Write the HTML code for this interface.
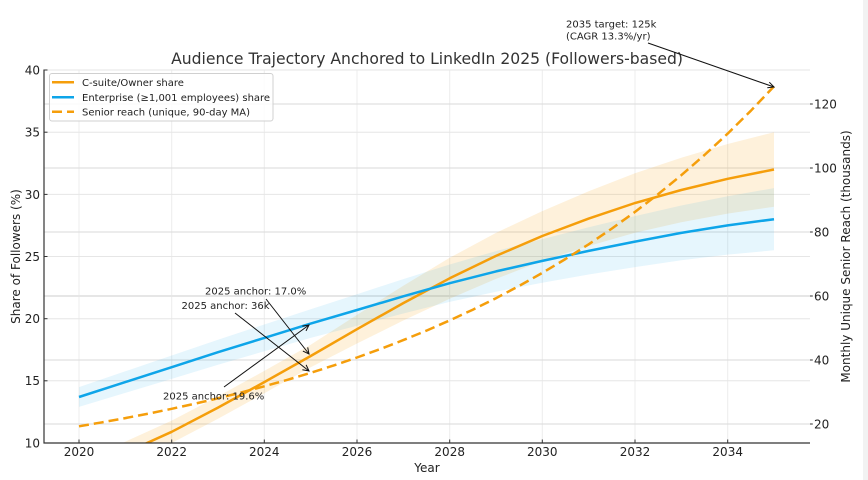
<!DOCTYPE html>
<html>
<head>
<meta charset="utf-8">
<style>
  html, body { margin:0; padding:0; background:#ffffff; }
  svg { display:block; }
  text { font-family: "DejaVu Sans", "Liberation Sans", sans-serif; }
</style>
</head>
<body>
<svg width="868" height="480" viewBox="0 0 868 480" xmlns="http://www.w3.org/2000/svg">
  <rect x="0" y="0" width="868" height="480" fill="#ffffff"/>
  <rect x="863" y="0" width="5" height="480" fill="#f2f2f2"/>
  <defs>
    <clipPath id="plot"><rect x="44" y="70" width="766" height="373"/></clipPath>
  </defs>

  <!-- vertical grid -->
  <g stroke="#ececec" stroke-width="1">
    <line x1="79" y1="70" x2="79" y2="443"/>
    <line x1="171.7" y1="70" x2="171.7" y2="443"/>
    <line x1="264.3" y1="70" x2="264.3" y2="443"/>
    <line x1="357" y1="70" x2="357" y2="443"/>
    <line x1="449.7" y1="70" x2="449.7" y2="443"/>
    <line x1="542.3" y1="70" x2="542.3" y2="443"/>
    <line x1="635" y1="70" x2="635" y2="443"/>
    <line x1="727.7" y1="70" x2="727.7" y2="443"/>
  </g>
  <!-- left horizontal grid -->
  <g stroke="#e6e6e6" stroke-width="1">
    <line x1="44" y1="70" x2="810" y2="70"/>
    <line x1="44" y1="132.2" x2="810" y2="132.2"/>
    <line x1="44" y1="194.4" x2="810" y2="194.4"/>
    <line x1="44" y1="256.5" x2="810" y2="256.5"/>
    <line x1="44" y1="318.7" x2="810" y2="318.7"/>
    <line x1="44" y1="380.8" x2="810" y2="380.8"/>
  </g>
  <!-- right horizontal grid -->
  <g stroke="#dadada" stroke-width="1">
    <line x1="44" y1="104" x2="810" y2="104"/>
    <line x1="44" y1="168" x2="810" y2="168"/>
    <line x1="44" y1="232" x2="810" y2="232"/>
    <line x1="44" y1="296" x2="810" y2="296" stroke="#e6e6e6" stroke-width="2"/>
    <line x1="44" y1="360" x2="810" y2="360"/>
    <line x1="44" y1="424" x2="810" y2="424"/>
  </g>

  <g clip-path="url(#plot)">
    <!-- orange band -->
    <polygon fill="#F59E0B" fill-opacity="0.15" points="79,462.9 125.3,441.7 171.7,420.6 218,396.4 264.3,370.9 310.7,344.8 357,314.9 403.3,285.7 449.7,257.8 496,232.9 542.3,211.1 588.7,191.2 635,173.2 681.3,157.7 727.7,144.0 774,132.2 774,206.8 727.7,213.6 681.3,222.3 635,232.8 588.7,246.0 542.3,260.9 496,278.9 449.7,298.8 403.3,320.5 357,343.5 310.7,367.2 264.3,393.3 218,418.8 171.7,443.0 125.3,464.1 79,485.3"/>
    <!-- blue band -->
    <polygon fill="#0EA5E9" fill-opacity="0.1" points="79,387.1 125.3,371.3 171.7,355.5 218,339.7 264.3,324.5 310.7,309.3 357,294.2 403.3,279.1 449.7,264.5 496,251.1 542.3,239.1 588.7,227.3 635,216.1 681.3,205.5 727.7,196.2 774,188.1 774,250.3 727.7,254.6 681.3,260.3 635,267.1 588.7,274.5 542.3,282.7 496,291.7 449.7,301.9 403.3,313.5 357,325.8 310.7,337.9 264.3,351.3 218,364.7 171.7,378.9 125.3,392.9 79,406.9"/>
    <!-- orange line -->
    <polyline fill="none" stroke="#F59E0B" stroke-width="2.5" stroke-linejoin="round" points="79,474.1 125.3,452.9 171.7,431.8 218,407.6 264.3,382.1 310.7,356.0 357,329.2 403.3,303.1 449.7,278.3 496,255.9 542.3,236.0 588.7,218.6 635,203.0 681.3,190.0 727.7,178.8 774,169.5"/>
    <!-- blue line -->
    <polyline fill="none" stroke="#0EA5E9" stroke-width="2.5" stroke-linejoin="round" points="79,397.0 125.3,382.1 171.7,367.2 218,352.2 264.3,337.9 310.7,323.6 357,310.0 403.3,296.3 449.7,283.2 496,271.4 542.3,260.9 588.7,250.9 635,241.6 681.3,232.9 727.7,225.4 774,219.2"/>
  </g>
  <!-- dashed senior reach -->
  <polyline fill="none" stroke="#F59E0B" stroke-width="2.5" stroke-dasharray="10,5" stroke-linejoin="round" points="79,426.3 102.2,422.3 125.3,418.1 148.5,413.6 171.7,408.8 194.8,403.7 218,398.3 241.2,392.5 264.3,386.3 287.5,379.8 310.7,372.8 333.8,365.4 357,357.5 380.2,349.1 403.3,340.1 426.5,330.6 449.7,320.4 472.8,309.7 496,298.2 519.2,285.9 542.3,272.9 565.5,259.0 588.7,244.3 611.8,228.6 635,211.9 658.2,194.1 681.3,175.2 704.5,155.0 727.7,133.6 750.8,110.8 774,86.4"/>

  <!-- spines -->
  <line x1="44" y1="69.5" x2="44" y2="443.5" stroke="#333" stroke-width="1.2"/>
  <line x1="43.5" y1="443" x2="810" y2="443" stroke="#333" stroke-width="1.2"/>

  <!-- ticks -->
  <g stroke="#333" stroke-width="1">
    <line x1="44" y1="70" x2="47.5" y2="70"/>
    <line x1="44" y1="132.2" x2="47.5" y2="132.2"/>
    <line x1="44" y1="194.4" x2="47.5" y2="194.4"/>
    <line x1="44" y1="256.5" x2="47.5" y2="256.5"/>
    <line x1="44" y1="318.7" x2="47.5" y2="318.7"/>
    <line x1="44" y1="380.8" x2="47.5" y2="380.8"/>
    <line x1="44" y1="443" x2="47.5" y2="443"/>
    <line x1="79" y1="443" x2="79" y2="439.5"/>
    <line x1="171.7" y1="443" x2="171.7" y2="439.5"/>
    <line x1="264.3" y1="443" x2="264.3" y2="439.5"/>
    <line x1="357" y1="443" x2="357" y2="439.5"/>
    <line x1="449.7" y1="443" x2="449.7" y2="439.5"/>
    <line x1="542.3" y1="443" x2="542.3" y2="439.5"/>
    <line x1="635" y1="443" x2="635" y2="439.5"/>
    <line x1="727.7" y1="443" x2="727.7" y2="439.5"/>
    <line x1="810" y1="104" x2="812.8" y2="104"/>
    <line x1="810" y1="168" x2="812.8" y2="168"/>
    <line x1="810" y1="232" x2="812.8" y2="232"/>
    <line x1="810" y1="296" x2="812.8" y2="296"/>
    <line x1="810" y1="360" x2="812.8" y2="360"/>
    <line x1="810" y1="424" x2="812.8" y2="424"/>
  </g>

  <!-- left tick labels -->
  <g font-size="12" fill="#222" text-anchor="end">
    <text x="40" y="74.4">40</text>
    <text x="40" y="136.6">35</text>
    <text x="40" y="198.8">30</text>
    <text x="40" y="260.9">25</text>
    <text x="40" y="323.1">20</text>
    <text x="40" y="385.2">15</text>
    <text x="40" y="447.4">10</text>
  </g>
  <!-- right tick labels -->
  <g font-size="12" fill="#222" text-anchor="start">
    <text x="814" y="108.4">120</text>
    <text x="814" y="172.4">100</text>
    <text x="814" y="236.4">80</text>
    <text x="814" y="300.4">60</text>
    <text x="814" y="364.4">40</text>
    <text x="814" y="428.4">20</text>
  </g>
  <!-- x tick labels -->
  <g font-size="12" fill="#222" text-anchor="middle">
    <text x="79" y="456">2020</text>
    <text x="171.7" y="456">2022</text>
    <text x="264.3" y="456">2024</text>
    <text x="357" y="456">2026</text>
    <text x="449.7" y="456">2028</text>
    <text x="542.3" y="456">2030</text>
    <text x="635" y="456">2032</text>
    <text x="727.7" y="456">2034</text>
  </g>

  <!-- axis labels -->
  <text x="427" y="472" font-size="12" fill="#222" text-anchor="middle">Year</text>
  <text x="0" y="0" font-size="12" fill="#222" text-anchor="middle" transform="translate(20,256.5) rotate(-90)">Share of Followers (%)</text>
  <text x="0" y="0" font-size="12" fill="#222" text-anchor="middle" transform="translate(850,256.5) rotate(-90)">Monthly Unique Senior Reach (thousands)</text>

  <!-- title -->
  <text x="427" y="64" font-size="15.6" fill="#333" text-anchor="middle">Audience Trajectory Anchored to LinkedIn 2025 (Followers-based)</text>

  <!-- annotations -->
  <g stroke="#111" stroke-width="1" fill="none">
    <line x1="266" y1="299" x2="309" y2="354"/>
    <path d="M302.9,351.1 L309,354 L307.7,347.4"/>
    <line x1="235" y1="313" x2="309" y2="371"/>
    <path d="M302.4,369.7 L309,371 L306.1,364.9"/>
    <line x1="224" y1="387" x2="309" y2="325"/>
    <path d="M306.0,330.9 L309,325 L302.4,326.1"/>
    <line x1="648" y1="43" x2="774" y2="87"/>
    <path d="M767.3,87.8 L774,87 L769.3,82.2"/>
  </g>
  <g font-size="10" fill="#222">
    <text x="205" y="294.5">2025 anchor: 17.0%</text>
    <text x="181.5" y="309">2025 anchor: 36k</text>
    <text x="163" y="399.5">2025 anchor: 19.6%</text>
    <text x="566" y="27.5">2035 target: 125k</text>
    <text x="566" y="39.5">(CAGR 13.3%/yr)</text>
  </g>

  <!-- legend -->
  <rect x="49.5" y="73.5" width="223.5" height="47.5" rx="2.5" fill="#ffffff" fill-opacity="0.85" stroke="#d0d0d0" stroke-width="1"/>
  <line x1="52" y1="82.3" x2="74" y2="82.3" stroke="#F59E0B" stroke-width="2.5"/>
  <line x1="52" y1="97.3" x2="74" y2="97.3" stroke="#0EA5E9" stroke-width="2.5"/>
  <line x1="52" y1="111.8" x2="74" y2="111.8" stroke="#F59E0B" stroke-width="2.5" stroke-dasharray="10,5"/>
  <g font-size="10" fill="#222">
    <text x="82" y="85.8">C-suite/Owner share</text>
    <text x="82" y="100.8">Enterprise (≥1,001 employees) share</text>
    <text x="82" y="115.3">Senior reach (unique, 90-day MA)</text>
  </g>
</svg>
</body>
</html>
